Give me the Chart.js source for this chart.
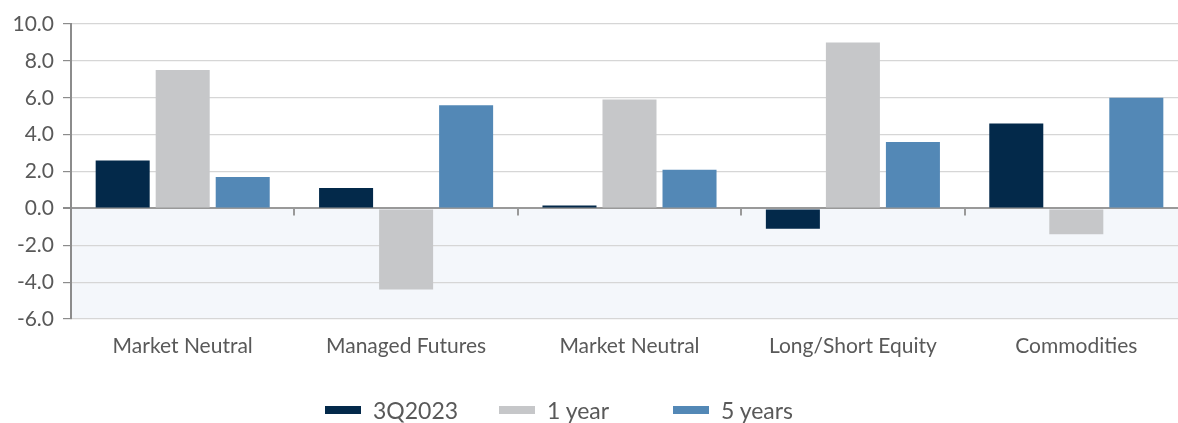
<!DOCTYPE html>
<html>
<head>
<meta charset="utf-8">
<script src="https://cdn.jsdelivr.net/npm/chart.js@4.4.0/dist/chart.umd.min.js"></script>
<style>
  html, body { margin: 0; padding: 0; background: #ffffff; overflow: hidden; }
  #wrap { position: relative; width: 1178px; height: 423px; overflow: hidden; }
  #box { position: absolute; left: 0; top: 0; width: 1188px; height: 423px; }
  #legend { position: absolute; left: 325px; top: 396px; display: flex; align-items: center;
            font-family: Lato, "Noto Sans", sans-serif; font-size: 23px; color: #595959; white-space: nowrap; }
  .item { display: flex; align-items: center; width: 174px; }
  .sw { width: 36px; height: 8px; margin-right: 12px; flex: none; }
</style>
</head>
<body>
<div id="wrap">
  <div id="box"><canvas id="c"></canvas></div>
  <div id="legend"></div>
</div>
<script>
const categories = ["Market Neutral", "Managed Futures", "Market Neutral", "Long/Short Equity", "Commodities"];
const seriesNames = ["3Q2023", "1 year", "5 years"];
const q3_2023 = [2.6, 1.1, 0.15, -1.1, 4.6];
const oneYear = [7.5, -4.4, 5.9, 9.0, -1.4];
const fiveYears = [1.7, 5.6, 2.1, 3.6, 6.0];
const yTicks = [-6, -4, -2, 0, 2, 4, 6, 8, 10];
const colors = ["#03294a", "#c6c7c9", "#5388b6"];

const negBg = {
  id: 'negBg',
  beforeDraw(chart) {
    const {ctx, chartArea, scales} = chart;
    const y0 = scales.y.getPixelForValue(0);
    ctx.save();
    ctx.fillStyle = '#f4f7fb';
    ctx.fillRect(chartArea.left, y0, chartArea.right - chartArea.left, chartArea.bottom - y0);
    ctx.restore();
  },
  beforeDatasetsDraw(chart) {
    const {ctx, scales} = chart;
    const x = scales.x, y = scales.y;
    const y0 = y.getPixelForValue(0);
    ctx.save();
    ctx.strokeStyle = '#999999';
    ctx.lineWidth = 2;
    for (let i = 0; i < categories.length - 1; i++) {
      const bx = Math.round((x.getPixelForTick(i) + x.getPixelForTick(i + 1)) / 2);
      ctx.beginPath();
      ctx.moveTo(bx, y0);
      ctx.lineTo(bx, y0 + 7);
      ctx.stroke();
    }
    ctx.restore();
  }
};

const datasets = [q3_2023, oneYear, fiveYears].map((d, i) => ({
  label: seriesNames[i],
  data: d,
  backgroundColor: colors[i],
  borderWidth: 0,
  barPercentage: 0.9,
  categoryPercentage: 0.806
}));

const chart = new Chart(document.getElementById('c'), {
  type: 'bar',
  data: { labels: categories, datasets },
  plugins: [negBg],
  options: {
    responsive: true,
    maintainAspectRatio: false,
    animation: false,
    layout: { padding: { top: 24, left: 0, right: 0, bottom: 0 } },
    plugins: { legend: { display: false }, tooltip: { enabled: false } },
    scales: {
      x: {
        grid: { display: false, drawTicks: false },
        border: { display: false },
        ticks: { color: '#595959', font: { family: 'Lato', size: 21 }, padding: 15, maxRotation: 0 },
        afterFit(s) { s.height = 104; }
      },
      y: {
        min: -6, max: 10,
        afterBuildTicks(s) { s.ticks = yTicks.map(v => ({ value: v })); },
        grid: {
          color: ctx => ctx.tick && ctx.tick.value === 0 ? '#999999' : '#d6d6d6',
          lineWidth: ctx => ctx.tick && ctx.tick.value === 0 ? 2 : 1.2,
          tickColor: '#8c8c8c',
          tickLength: 8
        },
        border: { display: true, color: '#8c8c8c', width: 2 },
        ticks: { color: '#595959', font: { family: 'Lato', size: 21 }, padding: 9,
                 callback: v => Number(v).toFixed(1) },
        afterFit(s) { s.width = 71; }
      }
    }
  }
});

const lg = document.getElementById('legend');
chart.data.datasets.forEach(ds => {
  const it = document.createElement('div'); it.className = 'item';
  const sw = document.createElement('div'); sw.className = 'sw'; sw.style.background = ds.backgroundColor;
  const tx = document.createElement('span'); tx.textContent = ds.label;
  it.appendChild(sw); it.appendChild(tx); lg.appendChild(it);
});
</script>
</body>
</html>
